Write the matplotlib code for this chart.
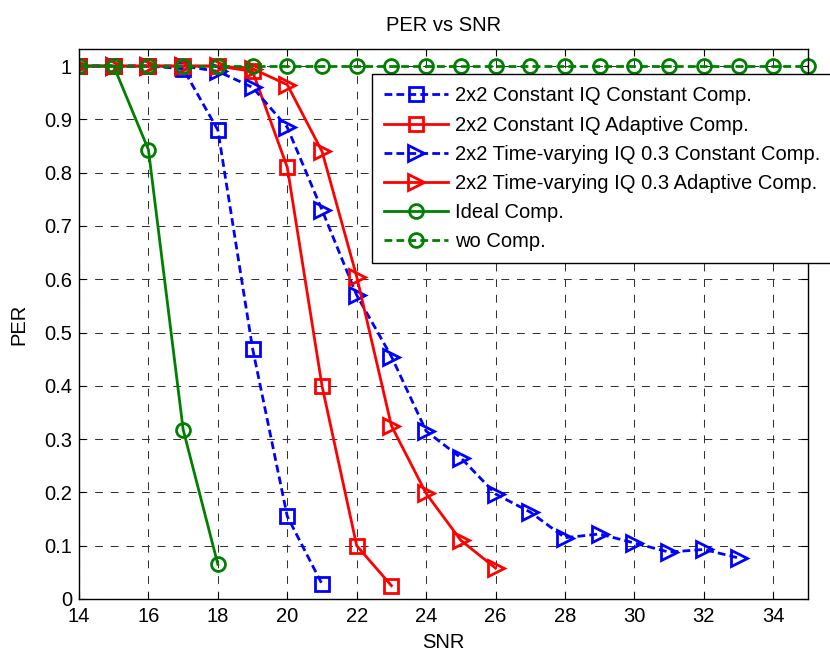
import matplotlib
matplotlib.use("Agg")
import matplotlib.pyplot as plt
from matplotlib.ticker import FixedLocator, FuncFormatter

plt.rcParams['font.family'] = ['Liberation Sans', 'DejaVu Sans']

snr_const_sq = [13, 14, 15, 16, 17, 18, 19, 20, 21]
per_const_const = [1.0, 1.0, 1.0, 1.0, 0.995, 0.88, 0.47, 0.155, 0.028]

snr_adapt_sq = [13, 14, 15, 16, 17, 18, 19, 20, 21, 22, 23]
per_const_adapt = [1.0, 1.0, 1.0, 1.0, 1.0, 1.0, 0.99, 0.81, 0.40, 0.10, 0.025]

snr_tv_const = list(range(13, 34))
per_tv_const = [1.0, 1.0, 1.0, 1.0, 1.0, 0.99, 0.96, 0.885, 0.73, 0.57, 0.455,
                0.315, 0.265, 0.197, 0.163, 0.115, 0.122, 0.105, 0.088, 0.093, 0.077]

snr_tv_adapt = list(range(13, 27))
per_tv_adapt = [1.0, 1.0, 1.0, 1.0, 1.0, 1.0, 0.995, 0.965, 0.84, 0.605, 0.325,
                0.198, 0.11, 0.058]

snr_ideal = [13, 14, 15, 16, 17, 18]
per_ideal = [1.0, 1.0, 1.0, 0.843, 0.318, 0.065]

snr_wo = list(range(15, 36))
per_wo = [1.0] * len(snr_wo)

labels = ["2x2 Constant IQ Constant Comp.",
          "2x2 Constant IQ Adaptive Comp.",
          "2x2 Time-varying IQ 0.3 Constant Comp.",
          "2x2 Time-varying IQ 0.3 Adaptive Comp.",
          "Ideal Comp.",
          "wo Comp."]

FS = 14.5
fig = plt.figure(figsize=(8.3, 6.52), dpi=100)
ax = fig.add_axes([79 / 830, 1 - 599 / 652, (808 - 79) / 830, (599 - 49) / 652])

blue = '#0000ff'
red = '#ff0000'
green = '#008000'
ms = 10
lw = 2
dash = (0, (2.8, 1.5))

ax.plot(snr_const_sq, per_const_const, linestyle=dash, color=blue, lw=lw,
        marker='s', ms=ms, mfc='none', mew=2, label=labels[0])
ax.plot(snr_adapt_sq, per_const_adapt, linestyle='-', color=red, lw=lw,
        marker='s', ms=ms, mfc='none', mew=2, label=labels[1])
ax.plot(snr_tv_const, per_tv_const, linestyle=dash, color=blue, lw=lw,
        marker='>', ms=ms + 1, mfc='none', mew=2, label=labels[2])
ax.plot(snr_tv_adapt, per_tv_adapt, linestyle='-', color=red, lw=lw,
        marker='>', ms=ms + 1, mfc='none', mew=2, label=labels[3])
ax.plot(snr_ideal, per_ideal, linestyle='-', color=green, lw=lw,
        marker='o', ms=ms, mfc='none', mew=2, label=labels[4])
ax.plot(snr_wo, per_wo, linestyle=dash, color=green, lw=lw,
        marker='o', ms=ms, mfc='none', mew=2, label=labels[5], clip_on=False)

ax.set_xlim(14, 35)
ax.set_ylim(0, 1.032)
ax.xaxis.set_major_locator(FixedLocator(list(range(14, 35, 2))))
ax.yaxis.set_major_locator(FixedLocator([i / 10 for i in range(11)]))
ax.yaxis.set_major_formatter(FuncFormatter(lambda v, p: ('%g' % round(v, 1))))
ax.tick_params(direction='in', top=True, right=True, labelsize=FS, length=5,
               width=0.8, pad=5)
ax.tick_params(axis='x', pad=6)
ax.grid(True, color='#333333', linestyle=(0, (7.5, 7.5)), lw=0.75)
for s in ax.spines.values():
    s.set_linewidth(1)

ax.set_title("PER vs SNR", fontsize=FS, pad=13)
ax.set_xlabel("SNR", fontsize=FS, labelpad=5)
ax.set_ylabel("PER", fontsize=FS, labelpad=11)

leg = ax.legend(loc='upper left', bbox_to_anchor=((372 - 79) / 729, 1 - 25 / 550),
                borderaxespad=0, fontsize=FS,
                fancybox=False, framealpha=1, edgecolor='black',
                handlelength=3.15, handletextpad=0.35, borderpad=0.62,
                labelspacing=0.5)
leg.get_frame().set_linewidth(1)
leg.set_clip_on(False)

fig.savefig("out.png", dpi=100)
